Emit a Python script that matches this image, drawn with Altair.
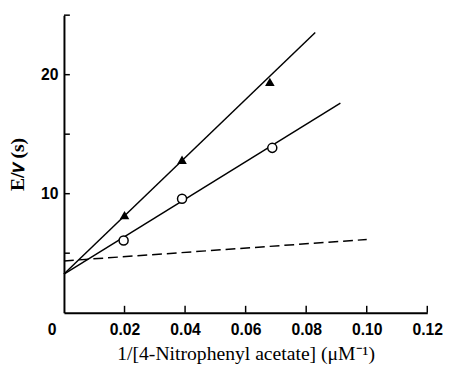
import altair as alt
import pandas as pd

# Data
tri_x = [0.02, 0.039, 0.068]
tri_y = [8.2, 12.85, 19.4]
circ_x = [0.0197, 0.039, 0.0688]
circ_y = [6.07, 9.57, 13.85]

fit_tri_x = [0.0, 0.083]
fit_tri_y = [3.25, 23.55]
fit_circ_x = [0.0, 0.0913]
fit_circ_y = [3.25, 17.6]
dash_x = [0.0, 0.1]
dash_y = [4.35, 6.15]

x_label_vals = [0, 0.02, 0.04, 0.06, 0.08, 0.10, 0.12]
x_tick_vals = [0.02, 0.04, 0.06, 0.08, 0.10, 0.12]
y_label_vals = [10, 20]
y_tick_vals = [5, 10, 15, 20, 25]

W, H = 370, 303

tri = pd.DataFrame({"x": tri_x, "y": tri_y})
circ = pd.DataFrame({"x": circ_x, "y": circ_y})
fits = pd.DataFrame({
    "x": fit_tri_x + fit_circ_x,
    "y": fit_tri_y + fit_circ_y,
    "s": ["tri"] * 2 + ["circ"] * 2,
})
dash = pd.DataFrame({"x": dash_x, "y": dash_y})
xt = pd.DataFrame({"v": x_tick_vals})
yt = pd.DataFrame({"v": y_tick_vals})

xscale = alt.Scale(domain=[0, 0.12], nice=False, zero=False)
yscale = alt.Scale(domain=[0, 25], nice=False, zero=False)

xaxis = alt.Axis(
    values=x_label_vals,
    labelExpr="datum.value == 0 ? '0' : format(datum.value, '.2f')",
    ticks=False,
    grid=False,
    domainColor="black",
    domainWidth=2,
    labelFont="Liberation Sans",
    labelFontSize=16,
    labelFontWeight="bold",
    labelColor="black",
    labelPadding=9,
    labelAlign=alt.expr("datum.value == 0 ? 'right' : 'center'"),
    labelOffset=alt.expr("datum.value == 0 ? -8 : 0"),
    title="1/[4-Nitrophenyl acetate] (μM⁻¹)",
    titleFont="Liberation Serif",
    titleFontSize=20,
    titleFontWeight="normal",
    titleColor="black",
    titleX=W / 2,
    titleY=42,
    titleBaseline="middle",
    titleAlign="center",
)
yaxis = alt.Axis(
    values=y_label_vals,
    ticks=False,
    grid=False,
    domainColor="black",
    domainWidth=2,
    labelFont="Liberation Sans",
    labelFontSize=16,
    labelFontWeight="bold",
    labelColor="black",
    labelPadding=6,
    title="E/𝑣 (s)",
    titleFont="Liberation Serif",
    titleFontSize=20,
    titleFontWeight="bold",
    titleColor="black",
    titleAngle=270,
    titleX=-47,
    titleY=H / 2,
    titleBaseline="middle",
    titleAlign="center",
)


def X(field="x"):
    return alt.X(f"{field}:Q", scale=xscale, axis=xaxis)


def Y(field="y"):
    return alt.Y(f"{field}:Q", scale=yscale, axis=yaxis)


fit_layer = alt.Chart(fits).mark_line(color="black", strokeWidth=1.5).encode(
    x=X(), y=Y(), detail="s:N"
)
dash_layer = alt.Chart(dash).mark_line(
    color="black", strokeWidth=1.5, strokeDash=[10, 5]
).encode(x=X(), y=Y())
tri_layer = alt.Chart(tri).mark_point(
    shape="triangle-up", filled=True, color="black", size=95, opacity=1
).encode(x=X(), y=Y())
circ_layer = alt.Chart(circ).mark_point(
    shape="circle", filled=True, fill="white", stroke="black", strokeWidth=1.5,
    size=85, opacity=1
).encode(x=X(), y=Y())

xtick_layer = alt.Chart(xt).mark_rule(color="black", strokeWidth=1.5).encode(
    x=alt.X("v:Q", scale=xscale, axis=xaxis), y=alt.value(H), y2=alt.value(H - 7)
)
ytick_layer = alt.Chart(yt).mark_rule(color="black", strokeWidth=1.5).encode(
    y=alt.Y("v:Q", scale=yscale, axis=yaxis), x=alt.value(0), x2=alt.value(6)
)

chart = alt.layer(
    fit_layer, dash_layer, xtick_layer, ytick_layer, tri_layer, circ_layer
).properties(
    width=W,
    height=H,
    autosize=alt.AutoSizeParams(type="none"),
    padding={"left": 57, "top": 4, "right": 16, "bottom": 52},
    background="white",
).configure_view(stroke=None)

chart.save("out.html", embed_options={"renderer": "svg", "actions": False})
